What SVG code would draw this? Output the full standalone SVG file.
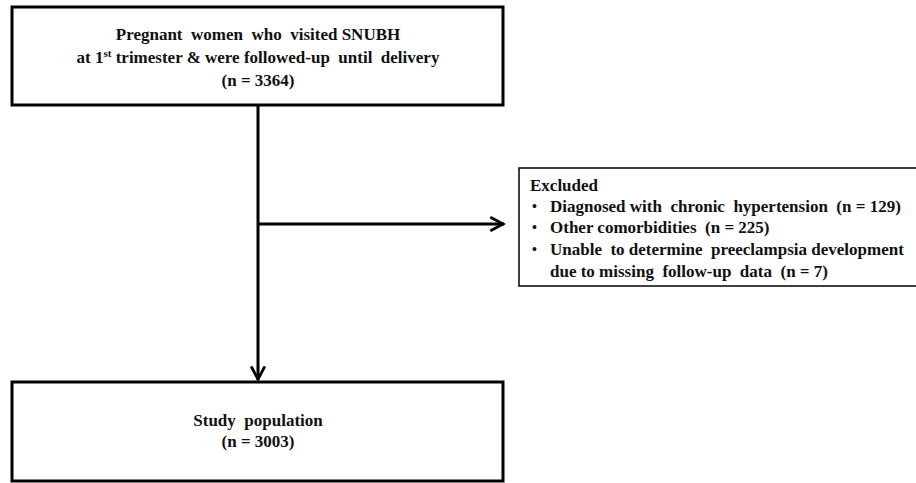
<svg xmlns="http://www.w3.org/2000/svg" width="916" height="483" viewBox="0 0 916 483">
<defs>
<style>
.box{fill:#fff;stroke:#000;stroke-width:3}
.thin{fill:#fff;stroke:#000;stroke-width:1.5}
.t{font-family:'Liberation Serif','Times New Roman',serif;font-weight:700;font-size:17px;fill:#111;white-space:pre}
.c{text-anchor:middle}
.b{font-size:14px}
.ln{stroke:#000;stroke-width:3;fill:none}
</style>
<marker id="arr" viewBox="0 0 20 20" refX="18" refY="10" markerWidth="18" markerHeight="18" orient="auto" markerUnits="userSpaceOnUse">
<path d="M4,3 L17,10 L4,17" fill="none" stroke="#000" stroke-width="3.2" stroke-linecap="round"/>
</marker>
</defs>
<rect width="916" height="483" fill="#fff"/>
<g id="connectors">
<line class="ln" x1="258" y1="105" x2="258" y2="380" marker-end="url(#arr)"/>
<line class="ln" x1="258" y1="224" x2="504" y2="224" marker-end="url(#arr)"/>
</g>
<g id="top">
<rect class="box" x="12" y="7" width="491" height="98"/>
<text class="t c" x="258" y="40">Pregnant  women  who  visited SNUBH</text>
<text class="t c" x="258" y="63">at 1<tspan font-size="11" dy="-6">st</tspan><tspan dy="6"> trimester &amp; were followed-up  until  delivery</tspan></text>
<text class="t c" x="258" y="86">(n = 3364)</text>
</g>
<g id="excluded">
<rect class="thin" x="519" y="168" width="400" height="118"/>
<text class="t" x="530" y="191">Excluded</text>
<text class="t b" x="532" y="211">•</text><text class="t" x="550" y="212">Diagnosed with  chronic  hypertension  (n = 129)</text>
<text class="t b" x="532" y="232">•</text><text class="t" x="550" y="233">Other comorbidities  (n = 225)</text>
<text class="t b" x="532" y="254">•</text><text class="t" x="550" y="255">Unable  to determine  preeclampsia development</text>
<text class="t" x="550" y="277">due to missing  follow-up  data  (n = 7)</text>
</g>
<g id="bottom">
<rect class="box" x="12" y="382" width="491" height="99"/>
<text class="t c" x="258" y="426">Study  population</text>
<text class="t c" x="258" y="447">(n = 3003)</text>
</g>
</svg>
